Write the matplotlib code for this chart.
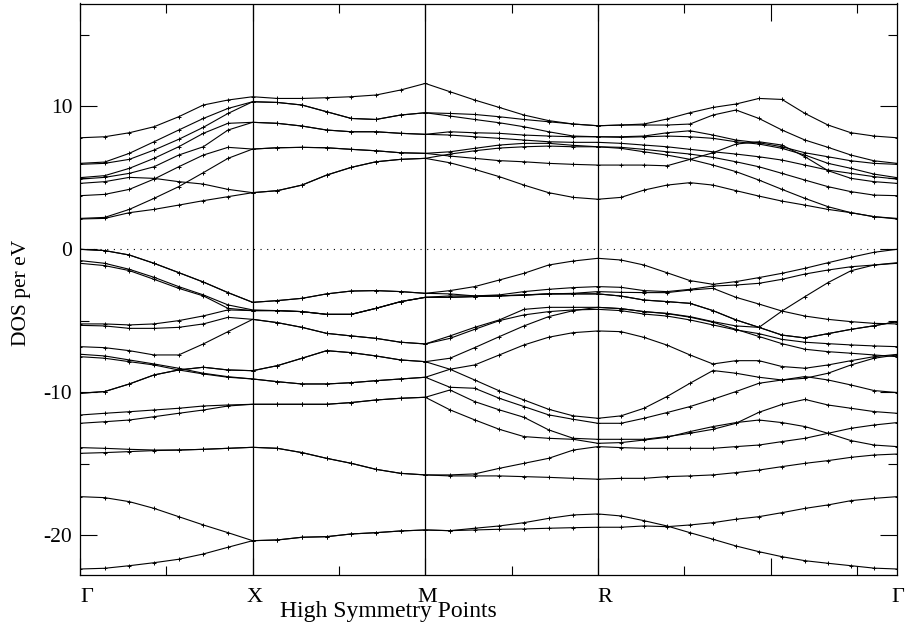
import numpy as np
import matplotlib
matplotlib.use('Agg')
import matplotlib.pyplot as plt
import matplotlib.transforms as mtransforms
from matplotlib.ticker import MultipleLocator

plt.rcParams['font.family'] = ['Liberation Serif', 'DejaVu Serif']
plt.rcParams['axes.unicode_minus'] = False

# high symmetry path (units of 2pi/a) and k-points per segment
sym_labels = ['\u0393', 'X', 'M', 'R', '\u0393']
sym_pos = [0.0, 0.5, 1.0, 1.5, 1.5 + np.sqrt(3) / 2]
seg_points = [8, 8, 8, 14]

# conduction bands (eV), 35 k-points along G-X-M-R-G
c1 = [2.12, 2.16, 2.56, 2.79, 3.09, 3.40, 3.68, 3.96,
      4.10, 4.49, 5.19, 5.73, 6.12, 6.29, 6.36,
      6.05, 5.59, 5.08, 4.49, 3.96, 3.63, 3.50,
      3.63, 4.14, 4.49, 4.66, 4.49, 4.10, 3.72, 3.37, 3.09, 2.79, 2.56, 2.28, 2.12]
c2 = [2.16, 2.23, 2.79, 3.56, 4.38, 5.36, 6.36, 7.01,
      7.10, 7.13, 7.10, 6.99, 6.89, 6.75, 6.71,
      6.52, 6.36, 6.20, 6.12, 6.01, 5.94, 5.89,
      5.89, 5.89, 5.84, 6.29, 6.75, 7.36, 7.52, 7.29, 6.47, 5.50, 4.96, 4.73, 4.61]
c3 = [3.75, 3.84, 4.19, 4.91, 5.77, 6.59, 7.13, 7.01,
      7.10, 7.13, 7.10, 6.99, 6.89, 6.75, 6.71,
      6.82, 7.06, 7.29, 7.41, 7.41, 7.27, 7.17,
      7.06, 6.82, 6.59, 6.29, 5.89, 5.43, 4.84, 4.19, 3.56, 2.98, 2.56, 2.28, 2.16]
c4 = [4.61, 4.73, 5.03, 4.96, 4.73, 4.56, 4.19, 3.96,
      4.10, 4.49, 5.19, 5.73, 6.12, 6.29, 6.36,
      6.66, 6.89, 7.08, 7.17, 7.22, 7.17, 7.17,
      7.13, 6.99, 6.82, 6.66, 6.43, 6.12, 5.77, 5.31, 4.84, 4.38, 4.03, 3.79, 3.75]
c5 = [4.91, 5.03, 5.31, 5.77, 6.59, 7.17, 8.34, 8.88,
      8.81, 8.62, 8.34, 8.22, 8.22, 8.11, 8.04,
      7.99, 7.87, 7.76, 7.64, 7.52, 7.48, 7.48,
      7.41, 7.29, 7.17, 6.99, 6.82, 6.66, 6.47, 6.24, 5.89, 5.54, 5.31, 5.08, 4.91]
c6 = [5.01, 5.15, 5.66, 6.36, 7.17, 8.11, 8.81, 8.88,
      8.81, 8.62, 8.34, 8.22, 8.22, 8.11, 8.04,
      8.22, 8.15, 8.11, 7.99, 7.92, 7.87, 7.87,
      7.83, 7.87, 7.92, 7.87, 7.76, 7.52, 7.36, 7.06, 6.59, 6.01, 5.66, 5.26, 5.01]
c7 = [5.94, 6.01, 6.29, 6.94, 7.69, 8.53, 9.50, 10.32,
      10.27, 10.09, 9.62, 9.15, 9.08, 9.39, 9.55,
      9.32, 9.08, 8.85, 8.57, 8.22, 7.92, 7.87,
      7.87, 7.92, 8.15, 8.29, 7.99, 7.64, 7.45, 7.17, 6.75, 6.47, 6.19, 6.01, 5.94]
c8 = [6.01, 6.10, 6.71, 7.52, 8.34, 9.15, 9.85, 10.32,
      10.27, 10.09, 9.62, 9.15, 9.08, 9.39, 9.55,
      9.50, 9.43, 9.27, 9.08, 8.92, 8.76, 8.64,
      8.69, 8.69, 8.69, 8.76, 9.39, 9.74, 9.15, 8.34, 7.64, 7.13, 6.59, 6.19, 6.01]
c9 = [7.80, 7.87, 8.15, 8.57, 9.27, 10.09, 10.44, 10.67,
      10.55, 10.55, 10.60, 10.67, 10.79, 11.14, 11.60,
      11.02, 10.44, 9.92, 9.39, 9.00, 8.76, 8.64,
      8.69, 8.76, 9.11, 9.55, 9.92, 10.16, 10.55, 10.48, 9.50, 8.69, 8.15, 7.92, 7.80]

# valence bands (eV)
v1 = [0.00, -0.09, -0.40, -0.98, -1.63, -2.29, -3.03, -3.71,
      -3.59, -3.43, -3.12, -2.92, -2.89, -2.96, -3.08,
      -2.89, -2.61, -2.15, -1.68, -1.10, -0.82, -0.63,
      -0.75, -1.10, -1.64, -2.19, -2.45, -2.26, -1.98, -1.68, -1.33, -0.94, -0.56, -0.21, 0.00]
v2 = [0.00, -0.09, -0.40, -0.98, -1.63, -2.29, -3.03, -3.71,
      -3.59, -3.43, -3.12, -2.92, -2.89, -2.96, -3.08,
      -3.12, -3.26, -3.26, -3.22, -3.12, -3.08, -2.96,
      -3.01, -3.03, -3.03, -2.85, -2.73, -3.36, -3.83, -4.32, -4.67, -4.90, -5.06, -5.18, -5.22]
v3 = [-0.79, -0.98, -1.40, -1.96, -2.61, -3.19, -3.89, -4.24,
      -4.29, -4.36, -4.55, -4.55, -4.13, -3.66, -3.36,
      -3.26, -3.26, -3.19, -2.96, -2.80, -2.68, -2.61,
      -2.66, -2.89, -2.96, -2.80, -2.57, -2.50, -2.38, -2.10, -1.73, -1.45, -1.22, -1.10, -0.98]
v4 = [-0.98, -1.14, -1.49, -2.10, -2.73, -3.26, -4.13, -4.29,
      -4.29, -4.36, -4.55, -4.55, -4.13, -3.66, -3.36,
      -3.36, -3.31, -3.26, -3.19, -3.12, -3.12, -3.12,
      -3.27, -3.55, -3.66, -3.78, -4.29, -4.94, -5.46, -6.00, -6.20, -5.90, -5.60, -5.35, -5.06]
v5 = [-5.22, -5.22, -5.29, -5.22, -4.99, -4.66, -4.24, -4.29,
      -4.29, -4.36, -4.55, -4.55, -4.13, -3.66, -3.36,
      -3.36, -3.31, -3.26, -3.19, -3.12, -3.12, -3.12,
      -3.27, -3.55, -3.66, -3.78, -4.29, -4.94, -5.46, -6.00, -6.20, -5.90, -5.60, -5.35, -5.06]
v6 = [-5.32, -5.36, -5.53, -5.53, -5.46, -5.22, -4.76, -4.90,
      -5.13, -5.46, -5.88, -6.06, -6.23, -6.50, -6.62,
      -6.06, -5.46, -4.94, -4.20, -4.06, -4.06, -4.06,
      -4.15, -4.36, -4.48, -4.71, -5.06, -5.36, -5.46, -4.32, -3.31, -2.33, -1.50, -1.10, -0.94]
v7 = [-6.81, -6.88, -7.09, -7.39, -7.39, -6.62, -5.76, -4.90,
      -5.13, -5.46, -5.88, -6.06, -6.23, -6.50, -6.62,
      -6.23, -5.60, -4.99, -4.59, -4.36, -4.24, -4.20,
      -4.29, -4.53, -4.67, -4.94, -5.29, -5.64, -5.90, -6.30, -6.50, -6.60, -6.69, -6.76, -6.81]
v8 = [-10.07, -9.95, -9.42, -8.79, -8.44, -8.25, -8.44, -8.49,
      -8.14, -7.62, -7.09, -7.23, -7.46, -7.74, -7.86,
      -7.62, -6.88, -6.11, -5.36, -4.71, -4.29, -4.06,
      -4.15, -4.36, -4.50, -4.75, -5.10, -5.60, -6.10, -6.60, -6.99, -7.16, -7.27, -7.39, -7.51]
v9 = [-10.07, -9.95, -9.42, -8.79, -8.44, -8.25, -8.44, -8.49,
      -8.14, -7.62, -7.09, -7.23, -7.46, -7.74, -7.86,
      -8.39, -9.14, -9.90, -10.54, -11.19, -11.65, -11.82,
      -11.65, -11.12, -10.30, -9.37, -8.48, -8.67, -8.95, -9.14, -9.02, -8.67, -8.09, -7.62, -7.39]
v10 = [-7.34, -7.46, -7.74, -8.02, -8.32, -8.67, -8.91, -9.07,
       -9.26, -9.42, -9.42, -9.33, -9.19, -9.07, -8.95,
       -8.39, -8.09, -7.39, -6.69, -6.15, -5.83, -5.71,
       -5.76, -6.16, -6.70, -7.39, -8.02, -7.79, -7.79, -8.20, -8.32, -8.09, -7.79, -7.51, -7.35]
v11 = [-7.51, -7.62, -7.86, -8.09, -8.44, -8.72, -8.95, -9.07,
       -9.26, -9.42, -9.42, -9.33, -9.19, -9.07, -8.95,
       -9.65, -9.72, -10.42, -11.00, -11.58, -11.89, -12.17,
       -12.17, -11.82, -11.42, -11.00, -10.49, -9.95, -9.37, -9.14, -8.90, -9.14, -9.49, -9.88, -10.02]
v12 = [-11.59, -11.47, -11.36, -11.24, -11.12, -10.96, -10.89, -10.84,
       -10.84, -10.84, -10.84, -10.72, -10.54, -10.42, -10.35,
       -9.84, -10.65, -11.23, -11.75, -12.63, -13.22, -13.29,
       -13.29, -13.29, -13.10, -12.87, -12.59, -12.17, -11.40, -10.85, -10.50, -10.89, -11.12, -11.35, -11.47]
v13 = [-12.17, -12.06, -11.94, -11.71, -11.47, -11.24, -10.96, -10.84,
       -10.84, -10.84, -10.84, -10.72, -10.54, -10.42, -10.35,
       -11.23, -11.93, -12.59, -13.10, -13.22, -13.29, -13.57,
       -13.52, -13.34, -13.15, -12.75, -12.40, -12.12, -11.94, -12.12, -12.40, -12.87, -13.38, -13.69, -13.80]
v14 = [-13.87, -13.92, -13.99, -14.04, -14.04, -13.99, -13.92, -13.85,
       -13.92, -14.22, -14.62, -14.97, -15.39, -15.67, -15.78,
       -15.78, -15.71, -15.32, -14.97, -14.62, -14.04, -13.80,
       -13.87, -13.92, -13.92, -13.92, -13.92, -13.80, -13.69, -13.45, -13.22, -12.87, -12.52, -12.29, -12.12]
v15 = [-14.27, -14.22, -14.15, -14.08, -14.04, -13.99, -13.92, -13.85,
       -13.92, -14.22, -14.62, -14.97, -15.39, -15.67, -15.78,
       -15.85, -15.85, -15.85, -15.90, -15.95, -16.02, -16.08,
       -16.02, -16.02, -15.90, -15.85, -15.78, -15.62, -15.44, -15.20, -14.97, -14.78, -14.55, -14.39, -14.32]
v16 = [-17.30, -17.37, -17.65, -18.12, -18.70, -19.28, -19.82, -20.38,
       -20.33, -20.14, -20.10, -19.91, -19.82, -19.70, -19.63,
       -19.68, -19.51, -19.35, -19.12, -18.82, -18.58, -18.51,
       -18.65, -18.98, -19.35, -19.82, -20.28, -20.75, -21.15, -21.50, -21.78, -21.96, -22.13, -22.30, -22.36]
v17 = [-22.36, -22.31, -22.13, -21.92, -21.68, -21.31, -20.84, -20.38,
       -20.33, -20.14, -20.10, -19.91, -19.82, -19.70, -19.63,
       -19.68, -19.63, -19.58, -19.56, -19.51, -19.47, -19.44,
       -19.44, -19.35, -19.40, -19.28, -19.12, -18.88, -18.70, -18.42, -18.12, -17.88, -17.58, -17.42, -17.30]

bands = [c1, c2, c3, c4, c5, c6, c7, c8, c9,
         v1, v2, v3, v4, v5, v6, v7, v8, v9, v10, v11, v12, v13, v14, v15, v16, v17]

# k-point coordinates along the path
k = [sym_pos[0]]
for i, n in enumerate(seg_points):
    k.extend(np.linspace(sym_pos[i], sym_pos[i + 1], n)[1:])
k = np.array(k)

fig = plt.figure(figsize=(9.05, 6.3), dpi=100)
ax = fig.add_axes([80 / 905, 1 - 575 / 630, 817 / 905, 571.5 / 630])

for b in bands:
    ax.plot(k, b, color='black', lw=0.8, marker='+', ms=3.5, mew=0.7)

# Fermi level and high symmetry lines
ax.axhline(0, color='black', lw=0.8, ls=(0, (1, 5)))
for x in sym_pos[1:-1]:
    ax.axvline(x, color='black', lw=0.9)

ax.set_xlim(sym_pos[0], sym_pos[-1])
ax.set_ylim(-22.78, 17.19)

ax.xaxis.set_major_locator(MultipleLocator(0.5))
ax.xaxis.set_minor_locator(MultipleLocator(0.25))
ax.yaxis.set_major_locator(MultipleLocator(10))
ax.yaxis.set_minor_locator(MultipleLocator(5))
ax.tick_params(which='both', direction='in', top=True, right=True,
               labelbottom=False, width=0.8)
ax.tick_params(which='major', length=12)
ax.tick_params(which='minor', length=6.5)
ax.tick_params(axis='y', labelsize=15.5, pad=5.5)
for s in ax.spines.values():
    s.set_linewidth(0.9)

# point labels under the axis, nudged a few pixels right like the original layout
trans = mtransforms.blended_transform_factory(ax.transData, ax.transAxes)
label_shift = [0, 2, 2, 7, 1]
for i, (lab, x) in enumerate(zip(sym_labels, sym_pos)):
    ha = 'left' if i == 0 else 'center'
    t = mtransforms.offset_copy(trans, fig=fig, x=label_shift[i], y=0, units='dots')
    ax.text(x, -0.0472, lab, transform=t, ha=ha, va='baseline', fontsize=16)

ax.text(0.377, -0.0735, 'High Symmetry Points', transform=ax.transAxes,
        ha='center', va='baseline', fontsize=17)
ax.text(-0.071, 0.4934, 'DOS per eV', transform=ax.transAxes, rotation=90,
        ha='center', va='center', fontsize=15.5)

fig.savefig('out.png', dpi=100)
